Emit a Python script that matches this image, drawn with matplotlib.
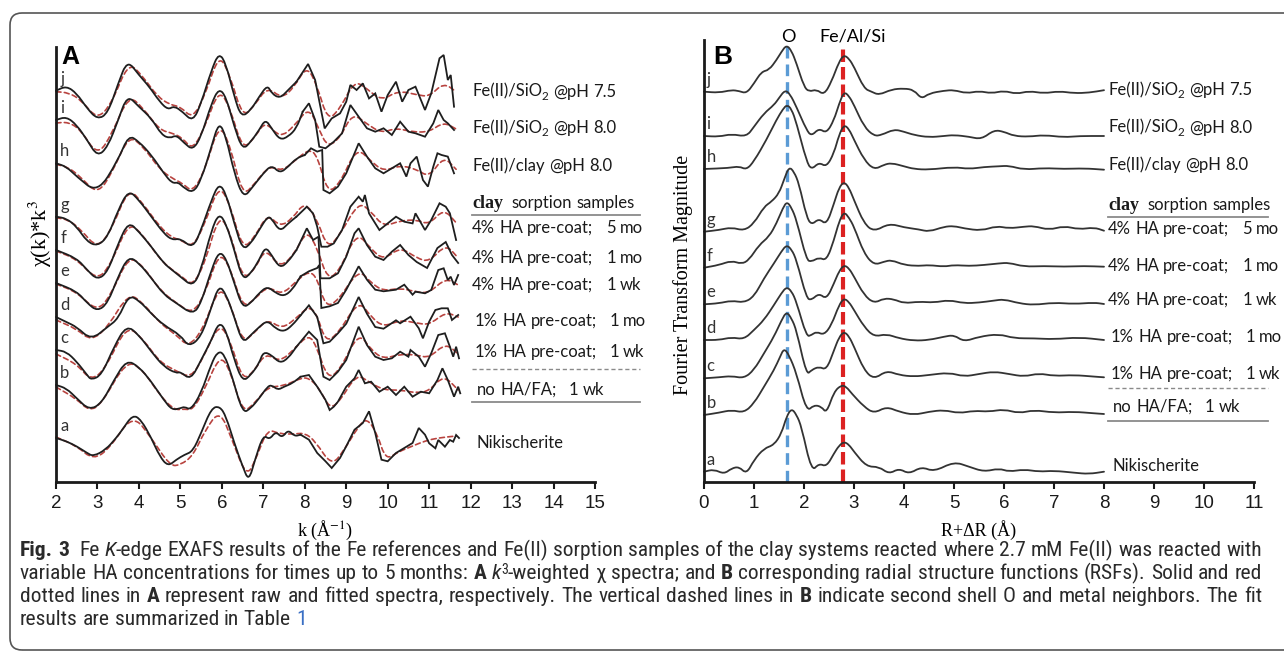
import re
import numpy as np
import matplotlib
matplotlib.use("Agg")
import matplotlib.pyplot as plt
from matplotlib import font_manager
from matplotlib.lines import Line2D
from matplotlib.path import Path
from matplotlib.patches import FancyBboxPatch, PathPatch
from matplotlib.transforms import IdentityTransform

# ---- data (arbitrary units, each curve relative to its own start) ----
letters = ["a", "b", "c", "d", "e", "f", "g", "h", "i", "j"]
sample_labels = ["Nikischerite", "no HA/FA;   1 wk", "1% HA pre-coat;   1 wk", "1% HA pre-coat;   1 mo",
                 "4% HA pre-coat;   1 wk", "4% HA pre-coat;   1 mo", "4% HA pre-coat;   5 mo",
                 "Fe(II)/clay @pH 8.0", "Fe(II)/SiO2 @pH 8.0", "Fe(II)/SiO2 @pH 7.5"]

# panel A: k^3 weighted chi, raw (k, value)
raw_a = [(2.0,0),(2.25,-3.3),(2.5,-8.3),(2.75,-15),(2.9,-18.3),(3.2,-11.7),(3.45,0),(3.6,8.3),(3.85,23.3),(4.05,18.3),(4.3,0),(4.5,-18.3),(4.7,-28.3),(4.9,-21.7),(5.1,-16.7),(5.3,-13.3),(5.5,5),(5.75,30),(5.95,31.7),(6.1,21.7),(6.3,-5),(6.5,-28.3),(6.65,-43.3),(6.8,-21.7),(7.0,3.3),(7.15,-1.7),(7.3,6.7),(7.45,0),(7.6,8.3),(7.75,1.7),(7.9,3.3),(8.1,-1.7),(8.3,-15),(8.5,-23.3),(8.65,-30),(8.85,-20),(9.0,-8.3),(9.2,8.3),(9.4,15),(9.55,26.7),(9.7,5),(9.85,-21.7),(10.0,-23.3),(10.2,-15),(10.4,-10),(10.6,-5),(10.75,10),(10.9,3.3),(11.0,-5.3),(11.15,-10.3),(11.22,-2),(11.38,-8.7),(11.5,-2),(11.58,-3.7),(11.65,3),(11.72,0)]
raw_b = [(2.0,0),(2.25,-3.3),(2.5,-13.3),(2.8,-25),(3.1,-18.3),(3.4,5),(3.7,25),(4.0,18.3),(4.3,3.3),(4.6,-15),(4.8,-25),(5.0,-23.3),(5.1,-21.7),(5.25,-25),(5.5,-8.3),(5.75,21.7),(5.9,33.3),(6.05,31.7),(6.25,8.3),(6.5,-28.3),(6.7,-23.3),(6.9,-13.3),(7.1,-1.7),(7.2,0),(7.35,-5),(7.5,-1.7),(7.7,1.7),(7.9,8.3),(8.1,10),(8.3,-1.7),(8.5,-15),(8.6,-25),(8.7,-21.7),(8.8,-16.7),(9.0,-1.7),(9.2,6.7),(9.3,15),(9.45,1.7),(9.6,3.3),(9.8,-6.7),(10.0,-1.7),(10.2,-10),(10.4,-1.7),(10.6,-11.7),(10.8,-6.7),(11.0,-8.3),(11.2,5),(11.32,16.7),(11.45,5),(11.6,-11.7),(11.7,-1.7),(11.75,-8.3)]
raw_c = [(2.0,0),(2.25,-1.7),(2.5,-11.7),(2.75,-25),(2.85,-30),(3.1,-25),(3.4,3.3),(3.7,25),(4.0,15),(4.3,-1.7),(4.6,-16.7),(4.9,-23.3),(5.0,-21.7),(5.25,-30),(5.5,-10),(5.75,10),(5.93,28),(6.1,20),(6.3,-10),(6.5,-31.7),(6.7,-25),(6.9,-13.3),(7.0,-1.7),(7.2,-5),(7.4,-13.3),(7.6,-8.3),(7.8,3.3),(8.1,18.3),(8.3,10),(8.45,-26.7),(8.6,-30),(8.8,-21.7),(9.0,-10),(9.3,23.3),(9.5,5),(9.7,-6.7),(9.9,-10),(10.1,-8.3),(10.3,-1.7),(10.5,-6.7),(10.55,0),(10.75,-6.7),(10.9,-16.7),(11.05,-3.3),(11.22,15),(11.38,16.7),(11.5,3.3),(11.58,-6.7),(11.65,3.3),(11.72,-8.3)]
raw_d = [(2.0,0),(2.25,-5),(2.5,-10),(2.85,-23),(3.25,-9.7),(3.5,-1.7),(3.75,21.7),(4.0,16.7),(4.3,3.3),(4.6,-8.3),(5.0,-18),(5.2,-30),(5.5,-20),(5.75,10),(5.93,31.7),(6.1,23),(6.3,0),(6.5,-26.3),(6.7,-18),(6.9,-10),(7.1,-3.3),(7.3,-11.7),(7.5,-14.7),(7.7,-8.3),(7.9,1.7),(8.1,11.7),(8.3,0),(8.45,-26.3),(8.6,-24.7),(8.8,-16.3),(9.0,-6.7),(9.3,20),(9.5,3.3),(9.7,-10),(9.9,-11.7),(10.2,-3.3),(10.3,-6.3),(10.55,0.3),(10.75,-11.3),(10.85,-21.3),(11.0,-4.7),(11.15,7),(11.3,8.7),(11.45,8.7),(11.55,-3),(11.7,2)]
raw_e = [(2.0,0),(2.5,-8.3),(2.75,-20),(3.0,-28.3),(3.25,-20),(3.5,6.7),(3.75,26.7),(4.0,20),(4.3,5),(4.6,-11.7),(4.9,-20),(5.3,-31.7),(5.5,-20),(5.75,13.3),(5.93,31.7),(6.1,25),(6.3,0),(6.5,-25),(6.7,-20),(6.9,-10),(7.1,-3.3),(7.3,-10),(7.5,-13.3),(7.7,-6.7),(7.9,6.7),(8.1,11.7),(8.3,15),(8.35,18),(8.4,-25),(8.6,-23.3),(8.8,-20),(9.0,-6.7),(9.3,16.7),(9.5,3.3),(9.7,-6.7),(9.9,-8.3),(10.2,-6.7),(10.4,-1.7),(10.6,-11.7),(10.67,-8.7),(10.9,-10.3),(11.05,-7),(11.22,13),(11.35,14.7),(11.45,3),(11.52,6.3),(11.6,-2),(11.7,8)]
raw_f = [(2.0,0),(2.5,-8.3),(2.75,-20),(3.0,-30),(3.25,-21.7),(3.5,6.7),(3.75,28.3),(4.0,18.3),(4.3,3.3),(4.6,-13.3),(4.8,-20),(5.0,-26.7),(5.3,-36.7),(5.5,-20),(5.75,20),(5.93,36.7),(6.1,26.7),(6.3,0),(6.5,-30),(6.7,-23.3),(6.9,-10),(7.05,3.3),(7.2,-5),(7.4,-18.3),(7.6,-11.7),(7.8,0),(8.05,21.7),(8.2,10),(8.33,13.3),(8.38,-28.3),(8.6,-28.3),(8.8,-23.3),(9.0,-6.7),(9.2,16.7),(9.3,21.7),(9.5,5),(9.7,-6.7),(9.9,-10),(10.1,-1.7),(10.3,5),(10.5,-5),(10.7,-12),(10.95,-18),(11.2,2),(11.4,8),(11.55,-5),(11.7,-13)]
raw_g = [(2.0,0),(2.25,-1.7),(2.5,-10),(2.75,-25),(3.0,-29.3),(3.25,-20),(3.5,6.7),(3.75,26.7),(4.0,16.7),(4.3,0),(4.6,-16.7),(4.8,-23.3),(5.0,-21.7),(5.3,-31.7),(5.5,-13.3),(5.75,16.7),(5.93,33.3),(6.1,23.3),(6.3,-6.7),(6.5,-33.3),(6.7,-26.7),(6.9,-13.3),(7.1,0),(7.2,-1.7),(7.4,-15),(7.6,-6.7),(7.8,0),(8.05,10),(8.2,3.3),(8.3,-10),(8.4,-30),(8.55,-30),(8.7,-26.7),(8.9,-13.3),(9.1,10),(9.3,20),(9.4,15),(9.45,21.7),(9.55,3.3),(9.8,-13.3),(10.0,-6.7),(10.2,0),(10.4,-5),(10.6,-6.7),(10.67,3.4),(10.9,-13.3),(11.05,-3.3),(11.25,13.4),(11.4,10),(11.5,3.4),(11.65,-23.3)]
raw_h = [(2.0,0),(2.25,-3.3),(2.5,-13.3),(3.0,-30),(3.5,3.3),(3.75,28.3),(4.0,21.7),(4.3,8.3),(4.6,-10),(4.8,-20),(4.95,-19),(5.05,-23.3),(5.3,-30),(5.5,-16.7),(5.75,16.7),(5.93,41.7),(6.1,26.7),(6.3,-10),(6.52,-35),(6.75,-23.3),(7.0,-10),(7.2,-1.7),(7.4,-10),(7.6,-3.3),(7.8,5),(8.0,8.3),(8.15,15),(8.3,11.7),(8.42,13.3),(8.45,-26.7),(8.6,-30),(8.8,-23.3),(9.0,-10),(9.2,10),(9.3,20),(9.5,6.7),(9.7,-5),(9.9,-10),(10.1,-5),(10.3,0),(10.45,-13.3),(10.55,0),(10.7,6.7),(10.85,-16.7),(10.97,-23.3),(11.1,-3.3),(11.2,10),(11.3,8.3),(11.45,6.7),(11.6,-10)]
raw_i = [(2.0,0),(2.25,3.3),(2.5,-5),(2.75,-20),(3.0,-36.7),(3.25,-26.7),(3.5,0),(3.72,25),(4.0,13.3),(4.3,1.7),(4.55,-15),(4.75,-18.3),(4.9,-15),(5.1,-23.3),(5.3,-30),(5.5,-16.7),(5.75,16.7),(5.93,31.7),(6.1,23.3),(6.3,-6.7),(6.5,-30),(6.7,-21.7),(6.9,-10),(7.05,0.7),(7.2,-8.3),(7.4,-20),(7.6,-16.7),(7.8,-8.3),(7.95,8.3),(8.1,16.7),(8.25,0),(8.35,-26.7),(8.5,-28.3),(8.7,-21.7),(8.9,-13.3),(9.1,15),(9.3,3.3),(9.5,-8.3),(9.7,-11.7),(9.9,-8.3),(10.1,-15),(10.3,-1.7),(10.5,-11.7),(10.67,-13.3),(10.9,-16.7),(11.1,-3.3),(11.22,10),(11.35,0),(11.45,-3.3),(11.6,-10)]
raw_j = [(2.0,0),(2.25,4.7),(2.5,-2.7),(2.75,-17.7),(3.0,-28.7),(3.25,-22.7),(3.5,7.3),(3.72,30.7),(4.0,15.7),(4.25,4),(4.5,-11),(4.7,-19),(4.85,-15.3),(5.05,-21),(5.3,-31),(5.5,-12.7),(5.75,20.7),(5.93,38),(6.1,27),(6.3,-6),(6.47,-26.7),(6.7,-19.3),(6.9,-6),(7.1,5.7),(7.2,-2.7),(7.4,-7.7),(7.6,0.7),(7.8,9),(8.08,26.7),(8.25,10.7),(8.48,-37.7),(8.65,-27.7),(8.85,-22.7),(9.0,-11),(9.1,5.7),(9.25,0.7),(9.4,7.3),(9.55,-7.7),(9.7,-2.7),(9.85,-21),(10.0,-4.3),(10.2,9),(10.35,-11),(10.5,0.7),(10.67,4),(10.9,-19.3),(11.05,-2.7),(11.25,32.4),(11.35,35.7),(11.45,10.7),(11.52,15.7),(11.6,-16)]

# panel A: fitted spectra (k, value)
fit_a = [(2.0,1),(2.5,-8),(2.9,-22),(3.3,-10),(3.85,24),(4.3,0),(4.75,-28),(5.0,-27),(5.3,-18),(5.6,8),(5.95,28),(6.25,-2),(6.6,-40),(6.85,-18),(7.1,9),(7.4,4),(7.75,4),(8.0,5),(8.25,-3),(8.65,-28),(8.95,-12),(9.3,12),(9.5,20),(9.75,4),(9.95,-22),(10.25,-14),(10.6,-8),(10.9,-3),(11.2,0),(11.65,2)]
fit_b = [(2.0,-2),(2.5,-14),(2.8,-26),(3.1,-19),(3.7,25),(4.1,15),(4.5,-10),(4.85,-25),(5.1,-24),(5.3,-25),(5.6,-3),(5.95,30),(6.2,15),(6.5,-28),(6.8,-18),(7.1,-2),(7.5,-1),(7.9,7),(8.1,7),(8.35,-3),(8.6,-24),(8.85,-16),(9.25,11),(9.55,3),(9.9,-5),(10.3,-5),(10.7,-8),(11.0,-6),(11.35,10),(11.7,-5)]
fit_c = [(2.0,-4),(2.5,-14),(2.85,-31),(3.2,-18),(3.7,25),(4.1,11),(4.5,-12),(4.9,-21),(5.25,-28),(5.55,-8),(5.93,27),(6.2,10),(6.5,-31),(6.8,-20),(7.05,-3),(7.4,-12),(7.75,1),(8.1,16),(8.3,2),(8.55,-29),(8.85,-20),(9.3,18),(9.6,0),(9.9,-9),(10.3,-4),(10.7,-5),(11.0,-8),(11.4,7),(11.7,-4)]
fit_d = [(2.0,-3),(2.5,-12),(2.85,-24),(3.25,-10),(3.75,24),(4.1,14),(4.5,-6),(4.9,-18),(5.2,-30),(5.55,-12),(5.93,31),(6.2,14),(6.5,-26),(6.8,-15),(7.1,-2),(7.45,-12),(7.8,-1),(8.1,11),(8.3,2),(8.5,-25),(8.8,-17),(9.3,17),(9.6,0),(9.9,-10),(10.3,-3),(10.7,-6),(11.0,-8),(11.4,5),(11.7,0)]
fit_e = [(2.0,-1),(2.5,-9),(3.0,-29),(3.35,-10),(3.75,27),(4.1,17),(4.5,-7),(4.9,-20),(5.3,-31),(5.6,-10),(5.93,31),(6.2,16),(6.5,-25),(6.8,-16),(7.1,-3),(7.45,-12),(7.8,2),(8.1,12),(8.3,5),(8.5,-24),(8.8,-18),(9.3,14),(9.6,0),(9.9,-8),(10.3,-5),(10.7,-9),(11.0,-10),(11.4,5),(11.7,-2)]
fit_f = [(2.0,-1),(2.5,-9),(3.0,-31),(3.35,-12),(3.75,28),(4.1,15),(4.5,-9),(4.8,-20),(5.05,-27),(5.3,-36),(5.6,-12),(5.93,36),(6.2,18),(6.5,-30),(6.8,-19),(7.05,2),(7.4,-18),(7.75,-4),(8.05,20),(8.3,2),(8.55,-30),(8.85,-20),(9.25,18),(9.6,1),(9.9,-10),(10.3,3),(10.7,-8),(11.0,-12),(11.4,6),(11.7,-8)]
fit_g = [(2.0,-1),(2.3,-3),(2.6,-13),(3.0,-32),(3.35,-12),(3.75,29),(4.1,13),(4.5,-10),(4.8,-21),(5.0,-23),(5.3,-31),(5.6,-6),(5.93,32),(6.2,12),(6.5,-33),(6.8,-20),(7.1,3),(7.4,-10),(7.7,-2),(8.0,15),(8.3,-3),(8.55,-32),(8.85,-18),(9.3,15),(9.6,5),(9.9,-10),(10.3,-4),(10.7,-3),(11.0,-8),(11.35,8),(11.65,-6)]
fit_h = [(2.0,-1),(2.3,-4),(2.6,-14),(3.0,-31),(3.35,-10),(3.75,28),(4.1,17),(4.5,-6),(4.8,-15),(5.05,-20),(5.3,-29),(5.6,-6),(5.93,40),(6.2,18),(6.5,-33),(6.8,-20),(7.15,-2),(7.45,-8),(7.8,4),(8.1,14),(8.3,8),(8.55,-30),(8.85,-20),(9.25,16),(9.6,2),(9.9,-8),(10.3,-2),(10.7,-6),(11.0,-14),(11.35,7),(11.65,-6)]
fit_i = [(2.0,-3),(2.3,-2),(2.6,-10),(3.0,-36),(3.35,-14),(3.75,25),(4.1,12),(4.5,-10),(4.8,-13),(5.05,-18),(5.3,-30),(5.6,-6),(5.93,31),(6.2,12),(6.5,-30),(6.8,-17),(7.05,-1),(7.4,-18),(7.75,-6),(8.1,13),(8.35,-10),(8.55,-27),(8.85,-18),(9.15,7),(9.5,-4),(9.85,-13),(10.2,-8),(10.6,-12),(11.0,-12),(11.35,-2),(11.65,-9)]
fit_j = [(2.0,-1),(2.3,-2),(2.6,-9),(3.0,-29),(3.35,-12),(3.75,29),(4.1,14),(4.45,-6),(4.75,-14),(5.0,-16),(5.3,-28),(5.6,-4),(5.93,37),(6.2,15),(6.5,-27),(6.8,-14),(7.1,4),(7.45,-8),(7.75,4),(8.05,25),(8.3,5),(8.55,-30),(8.85,-18),(9.2,10),(9.5,2),(9.85,-10),(10.25,0),(10.7,-4),(11.0,-6),(11.35,8),(11.65,-1)]

# panel B: Fourier transform magnitude (R, value)
rsf_a = [(0,0),(0.2,2.3),(0.4,-2.3),(0.55,3.3),(0.7,5),(0.85,-2.3),(1.0,11.7),(1.2,23.3),(1.4,26.7),(1.55,38.3),(1.65,55),(1.75,63.3),(1.85,57),(1.95,45),(2.15,0),(2.3,8.3),(2.45,5),(2.6,18.3),(2.7,26),(2.8,30),(2.9,27),(3.0,20),(3.25,5),(3.5,5),(3.7,-2.3),(3.9,3.3),(4.1,-2.3),(4.35,5),(4.6,0),(5.0,10),(5.3,5),(5.6,0),(5.9,3.3),(6.1,0),(6.4,2.3),(6.7,0),(7.0,1),(7.4,-1),(7.7,-2.3),(8.0,0)]
rsf_b = [(0,0),(0.3,2.3),(0.55,5),(0.8,2.3),(1.0,11.7),(1.2,28.3),(1.4,45),(1.52,58),(1.6,66.7),(1.7,60),(1.85,41.7),(2.05,3.3),(2.2,10),(2.35,8.3),(2.45,1.7),(2.6,23.3),(2.75,30),(2.85,28),(2.95,21.7),(3.2,8.3),(3.4,1.7),(3.65,8.3),(3.9,3.3),(4.2,0),(4.5,3.3),(4.8,5),(5.1,1.7),(5.4,4.3),(5.7,3.3),(6.0,5.7),(6.3,1.7),(6.6,5),(7.0,2.3),(7.4,3.3),(7.8,1.7),(8.0,1)]
rsf_c = [(0,0),(0.3,1),(0.55,2.3),(0.8,0),(1.0,8.3),(1.2,25),(1.4,41.7),(1.55,58),(1.65,66.7),(1.75,60),(1.85,48),(2.05,3.3),(2.15,8.3),(2.3,11.7),(2.45,8.3),(2.6,28),(2.7,41),(2.8,46.7),(2.9,42),(3.0,31.7),(3.2,8.3),(3.4,-1),(3.65,7.7),(3.9,3.3),(4.2,1.7),(4.5,3.3),(4.9,5.7),(5.2,1.7),(5.5,4.3),(5.8,6.7),(6.1,4.3),(6.4,1.7),(6.7,5),(7.0,2.3),(7.4,3.3),(7.8,1.7),(8.0,1)]
rsf_d = [(0,0),(0.3,0),(0.55,2.7),(0.8,0.7),(1.0,10),(1.2,20),(1.4,35),(1.55,47),(1.65,53),(1.75,49),(1.85,38),(2.05,3.3),(2.15,5),(2.25,8.3),(2.4,5),(2.55,15),(2.7,35),(2.8,41.7),(2.9,38),(3.0,30),(3.2,13.3),(3.4,3.3),(3.65,6),(3.9,1.7),(4.2,-0.7),(4.5,0),(4.8,3.3),(5.0,5),(5.2,-1.7),(5.5,3.3),(5.9,6),(6.2,1.7),(6.6,1.7),(7.0,0.7),(7.5,2.7),(8.0,0)]
rsf_e = [(0,0),(0.3,1),(0.55,3.7),(0.8,1.7),(1.0,7.7),(1.2,26),(1.4,41),(1.55,53),(1.65,59.3),(1.75,55),(1.85,44.3),(2.05,6),(2.15,4.3),(2.3,11),(2.45,5),(2.6,21),(2.7,33),(2.8,39.3),(2.9,36),(3.0,27.7),(3.2,9.3),(3.4,1),(3.6,6),(3.8,5),(4.0,1),(4.3,2.7),(4.6,1.7),(4.9,4.3),(5.2,1),(5.5,1.7),(5.8,3.7),(6.0,5),(6.3,1),(6.6,-0.7),(7.0,1.7),(7.4,0.3),(7.8,1.7),(8.0,0.3)]
rsf_f = [(0,0),(0.3,2.7),(0.55,7),(0.75,3.7),(0.9,7.7),(1.1,22.7),(1.3,31),(1.45,44.3),(1.58,60),(1.66,66),(1.75,60),(1.85,47.7),(2.05,7.7),(2.15,6),(2.3,10.3),(2.45,7),(2.6,27.7),(2.7,46),(2.8,56),(2.9,50),(3.0,41),(3.2,14.3),(3.4,2.7),(3.6,6),(3.75,7.7),(4.0,2.7),(4.3,1.7),(4.5,2.7),(4.8,1),(5.0,2.7),(5.3,1.7),(5.6,2.7),(5.9,4.3),(6.1,5),(6.4,1),(6.8,1.7),(7.2,1),(7.6,1.7),(8.0,1)]
rsf_g = [(0,0),(0.3,1.7),(0.55,4.3),(0.8,1),(1.0,8.3),(1.2,25),(1.35,30),(1.5,38.3),(1.6,52),(1.7,65),(1.8,60),(1.9,48),(2.05,15),(2.15,6.7),(2.3,13.3),(2.45,6.7),(2.6,28.3),(2.7,44),(2.8,50),(2.9,44),(3.0,31.7),(3.2,8.3),(3.4,0),(3.7,8.3),(4.0,4.3),(4.3,2.3),(4.5,0),(4.8,5),(5.0,5.7),(5.2,3.3),(5.55,1),(5.85,5.7),(6.1,3.3),(6.4,5),(6.6,5.7),(6.9,1.7),(7.2,5.7),(7.5,2.3),(7.8,4.3),(8.0,1)]
rsf_h = [(0,0),(0.5,1),(0.7,2.7),(0.85,-0.7),(1.0,7.7),(1.25,29.3),(1.45,49.3),(1.58,60),(1.66,64.3),(1.75,60),(1.85,46),(2.05,7.7),(2.15,-0.7),(2.3,6.7),(2.45,2),(2.6,16),(2.7,34),(2.8,44.3),(2.9,40),(3.0,29.3),(3.2,9.3),(3.4,-0.7),(3.6,4.3),(3.75,6),(4.0,2.7),(4.2,0),(4.5,-0.7),(5.0,2),(5.3,0),(5.6,2),(5.9,2.7),(6.1,3.3),(6.4,-0.7),(6.8,1),(7.2,0),(7.6,0.7),(8.0,-0.7)]
rsf_i = [(0,0),(0.3,-0.7),(0.55,2),(0.85,-0.7),(1.0,9.3),(1.2,22.7),(1.4,31),(1.5,38),(1.62,46),(1.72,42),(1.85,29),(2.05,6),(2.15,0),(2.3,7.7),(2.45,2.7),(2.6,16),(2.7,32),(2.8,44.3),(2.9,40),(3.0,31),(3.2,9.3),(3.4,0),(3.55,1),(3.8,6.7),(4.0,4.3),(4.2,1),(4.5,-1.3),(4.8,0),(5.0,1),(5.3,-0.7),(5.55,-3.3),(5.8,6),(6.0,4.3),(6.2,0),(6.5,-0.7),(6.8,1),(7.2,-1.3),(7.5,0),(8.0,0)]
rsf_j = [(0,0),(0.3,-1),(0.55,1.7),(0.7,0.7),(0.85,-1.7),(1.0,8.3),(1.15,20),(1.3,21.7),(1.45,31.7),(1.55,40),(1.65,46.7),(1.75,41),(1.85,28.3),(2.0,5),(2.1,0),(2.25,2.3),(2.4,-3.3),(2.55,10),(2.7,30),(2.8,36.7),(2.9,33),(3.0,25),(3.2,3.3),(3.35,0),(3.5,-3.3),(3.75,2.3),(4.0,3.3),(4.2,1.7),(4.35,-7.3),(4.5,-1.7),(4.8,1),(5.0,1.7),(5.25,-1.7),(5.5,0.7),(5.75,-1.7),(6.0,1),(6.25,-2.3),(6.5,0.7),(6.8,-1.7),(7.1,0.5),(7.4,-1.5),(7.7,-1),(8.0,1.5)]

o_shell = 1.67
metal_shell = 2.79

# ---- drawing ----
W, H = 1284, 655
plt.rcParams["mathtext.fontset"] = "stix"
fig = plt.figure(figsize=(W / 100, H / 100), dpi=100, facecolor="white")
renderer = fig.canvas.get_renderer()

names = {f.name for f in font_manager.fontManager.ttflist}
sans = "Lato" if "Lato" in names else "DejaVu Sans"
cap_font = {"family": "DejaVu Sans", "fontstretch": "condensed"}
for cand in ("Liberation Sans Narrow", "Roboto Condensed", "Open Sans Condensed", "Noto Sans Condensed"):
    if cand in names:
        cap_font = {"family": cand}
        break


def fx(px):
    return px / W


def fy(py):
    return 1 - py / H


def smooth(ax, pts, **kw):
    # line through the read points, corners rounded with quadratic segments
    p = np.asarray(pts, float)
    if len(p) < 3:
        ax.plot(p[:, 0], p[:, 1], color=kw.get("ec"), lw=kw.get("lw"), clip_on=False)
        return
    mids = (p[:-1] + p[1:]) / 2
    verts = [p[0], mids[0]]
    codes = [Path.MOVETO, Path.LINETO]
    for i in range(1, len(p) - 1):
        verts += [p[i], mids[i]]
        codes += [Path.CURVE3, Path.CURVE3]
    verts.append(p[-1])
    codes.append(Path.LINETO)
    ax.add_patch(PathPatch(Path(verts, codes), fill=False, clip_on=False, capstyle="round",
                           joinstyle="round", **kw))


def text_w(s, **kw):
    a = fig.text(0, 0, s + "|", **kw)
    b = fig.text(0, 0, "|", **kw)
    w = a.get_window_extent(renderer).width - b.get_window_extent(renderer).width
    a.remove()
    b.remove()
    return w


def split_kw(base, extra):
    kw = {**base, **extra}
    dy = kw.pop("dy", 0)
    return kw, dy


def put(px, py, parts, target=None, **base):
    gap = 0
    if target:
        natural = sum(text_w(s, **split_kw(base, e)[0]) for s, e in parts)
        n = sum(s.count(" ") for s, e in parts)
        gap = (target - natural) / n
    x = px
    for s, e in parts:
        kw, dy = split_kw(base, e)
        for tok in re.split(r"( )", s):
            if tok == "":
                continue
            if tok != " ":
                fig.text(fx(x), fy(py + dy), tok, ha="left", va="baseline", **kw)
            x += text_w(tok, **kw) + (gap if tok == " " else 0)
    return x


# outer frame
frame = FancyBboxPatch((10, 5), 1320, 637, boxstyle="round,pad=0,rounding_size=12",
                       transform=IdentityTransform(), fill=False, ec="#555555", lw=1.2)
fig.add_artist(frame)

axA = fig.add_axes([fx(56), fy(482), 539 / W, 435 / H])
axB = fig.add_axes([fx(704), fy(482), 550 / W, 442 / H])
axA.set_xlim(2, 15)
axA.set_ylim(0, 435)
axB.set_xlim(0, 11)
axB.set_ylim(0, 442)
for ax, ticks in ((axA, range(2, 16)), (axB, range(0, 12))):
    ax.patch.set_alpha(0)
    for sp in ("top", "right"):
        ax.spines[sp].set_visible(False)
    for sp in ("left", "bottom"):
        ax.spines[sp].set_linewidth(2)
        ax.spines[sp].set_color("#1a1a1a")
    ax.set_xticks(list(ticks))
    ax.set_yticks([])
    ax.tick_params(axis="x", direction="out", length=5, width=1.5, pad=4,
                   labelsize=13.5, colors="#1a1a1a")
    for lab in ax.get_xticklabels():
        lab.set_family("Liberation Sans")

offsA = [44, 97, 132, 165, 199, 232, 265.3, 318.7, 362, 391.3]
raws = [raw_a, raw_b, raw_c, raw_d, raw_e, raw_f, raw_g, raw_h, raw_i, raw_j]
fits = [fit_a, fit_b, fit_c, fit_d, fit_e, fit_f, fit_g, fit_h, fit_i, fit_j]
for off, raw, fit, let in zip(offsA, raws, fits, letters):
    smooth(axA, [(k, v + off) for k, v in fit], ec="#b8433f", lw=1.2, ls=(0, (3, 2)))
    # raw data: smooth at low k, jagged (straight segments) at high k
    low = [(k, v + off) for k, v in raw if k <= 8.0]
    high = [(k, v + off) for k, v in raw if k >= low[-1][0]]
    smooth(axA, low, ec="#1e1e1e", lw=1.3)
    hk, hv = np.array(high).T
    axA.plot(hk, hv, color="#1e1e1e", lw=1.3, clip_on=False, solid_joinstyle="miter")
    axA.text(2.1, off + 4, let, family=sans, fontsize=12, color="#333333", va="bottom", ha="left")

offsB = [10.3, 67, 103.7, 142, 177.7, 214.3, 250.3, 313, 346, 390.3]
rsfs = [rsf_a, rsf_b, rsf_c, rsf_d, rsf_e, rsf_f, rsf_g, rsf_h, rsf_i, rsf_j]
axB.axvline(o_shell, ymin=0, ymax=439 / 442, color="#5b9bd5", lw=2.4, ls=(0, (3.5, 1.8)), zorder=1)
axB.axvline(metal_shell, ymin=0, ymax=435 / 442, color="#dc2222", lw=3, ls=(0, (3, 1.2)), zorder=1)
for off, r, let in zip(offsB, rsfs, letters):
    smooth(axB, [(R, v + off) for R, v in r], ec="#333333", lw=1.3, zorder=2)
    axB.text(0.05, off + 4, let, family=sans, fontsize=12, color="#333333", va="bottom", ha="left")

# panel letters and peak names
fig.text(fx(61), fy(45), "A", family="Liberation Sans", weight="bold", fontsize=18, va="top", ha="left")
fig.text(fx(713), fy(45), "B", family="Liberation Sans", weight="bold", fontsize=19, va="top", ha="left")
fig.text(fx(788), fy(37), "O", family=sans, fontsize=13, ha="center", va="center")
fig.text(fx(853), fy(36), "Fe/Al/Si", family=sans, fontsize=13, ha="center", va="center")

# axis titles
fig.text(fx(40), fy(233), r"χ(k)*k$^3$", family="Liberation Serif", fontsize=16, rotation=90,
         ha="center", va="center")
fig.text(fx(683), fy(275), "Fourier Transform Magnitude", family="Liberation Serif", fontsize=14.5,
         rotation=90, ha="center", va="center")
fig.text(fx(325), fy(530), r"k (Å$^{-1}$)", family="Liberation Serif", fontsize=13, ha="center", va="center")
fig.text(fx(979), fy(530), "R+ΔR (Å)", family="Liberation Serif", fontsize=13, ha="center", va="center")

# sample labels, right of each panel
lab_style = {"family": sans, "fontsize": 12, "color": "#1a1a1a"}
posA = [(477, 442.7), (477, 390), (475, 351.7), (475, 320.7), (472, 285), (472, 258.3), (472, 227.7),
        (472, 165.7), (472, 128), (472, 91.7)]
posB = [(1113, 466), (1113, 407), (1111, 374), (1111, 336.7), (1108, 300), (1108, 266), (1108, 229),
        (1108, 165), (1108, 127.7), (1108, 90)]


def label_parts(text):
    if "SiO2" in text:
        head, tail = text.split("SiO2")
        return [(head + "SiO", {}), ("2", {"fontsize": 8.5, "dy": 3}), (tail, {})]
    return [(text, {})]


for pos in (posA, posB):
    for (px, py), text in zip(pos, sample_labels):
        put(px, py + 5, label_parts(text), **lab_style)

for x0, x1, y_head, y_dash, y_line in ((472, 640, 215, 369.3, 402.3), (1108, 1268, 217, 388, 420.7)):
    put(x0, y_head - 7, [("clay", {"family": "Liberation Serif", "weight": "bold", "fontsize": 13}),
                         ("  sorption samples", {})], **lab_style)
    fig.add_artist(Line2D([fx(x0), fx(x1)], [fy(y_head)] * 2, color="#8a8a8a", lw=1.3))
    fig.add_artist(Line2D([fx(x0), fx(x1)], [fy(y_dash)] * 2, color="#8a8a8a", lw=1.0, ls=(0, (3, 2))))
    fig.add_artist(Line2D([fx(x0), fx(x1)], [fy(y_line)] * 2, color="#8a8a8a", lw=1.3))

# caption
cap = {**cap_font, "fontsize": 12, "color": "#2a2a2a"}
line1 = [("Fig. 3", {"weight": "bold"}), ("  Fe ", {}), ("K", {"style": "italic"}),
         ("-edge EXAFS results of the Fe references and Fe(II) sorption samples of the clay systems "
          "reacted where 2.7 mM Fe(II) was reacted with", {})]
natural = sum(text_w(s, **split_kw(cap, e)[0]) for s, e in line1)
cap["fontsize"] = 12 * 1235 / natural
line2 = [("variable HA concentrations for times up to 5 months: ", {}), ("A", {"weight": "bold"}), (" ", {}),
         ("k", {"style": "italic"}), ("3", {"fontsize": cap["fontsize"] * 0.65, "dy": -5}),
         ("-weighted χ spectra; and ", {}), ("B", {"weight": "bold"}),
         (" corresponding radial structure functions (RSFs). Solid and red", {})]
line3 = [("dotted lines in ", {}), ("A", {"weight": "bold"}),
         (" represent raw and fitted spectra, respectively. The vertical dashed lines in ", {}),
         ("B", {"weight": "bold"}), (" indicate second shell O and metal neighbors. The fit", {})]
line4 = [("results are summarized in Table ", {}), ("1", {"color": "#3a6fc4"})]
put(20, 556, line1, target=1242, **cap)
put(20, 579, line2, target=1242, **cap)
put(20, 602, line3, target=1242, **cap)
put(20, 625, line4, **cap)

fig.savefig("out.png", dpi=100, facecolor="white")
